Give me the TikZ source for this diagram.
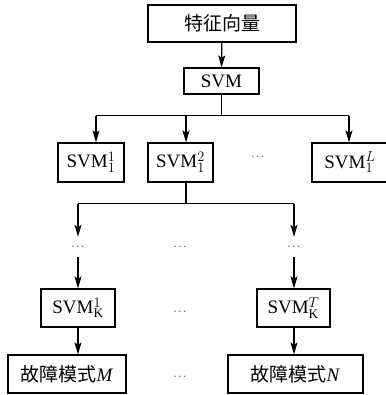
\documentclass[tikz,border=0pt]{standalone}
\usepackage{fontspec}
\setmainfont{Liberation Serif}
\newfontfamily\cjk{Noto Sans CJK SC}
\usetikzlibrary{arrows.meta}

\begin{document}
\begin{tikzpicture}[x=1pt,y=-1pt,
  every node/.style={font=\fontsize{19}{22}\selectfont},
  box/.style={draw,line width=1.2pt,inner sep=0pt,minimum height=38pt},
  dotnode/.style={inner sep=0pt,minimum height=20pt,font=\fontsize{11}{12}\selectfont},
  link/.style={line width=1.2pt,-{Stealth[length=12pt,width=7pt,inset=2.5pt]}}]
  \useasboundingbox (0,0) rectangle (385,395);
  \node[box,minimum width=148pt,minimum height=37pt] (feat) at (222,23.5) {\cjk 特征向量};
  \node[box,minimum width=75pt,minimum height=26pt] (svm) at (221.5,81) {SVM};
  \node[box,minimum width=66pt,minimum height=39pt] (svmA) at (91,162.5) {SVM$_{1}^{1}$};
  \node[box,minimum width=65pt,minimum height=39pt] (svmB) at (180.5,162.5) {SVM$_{1}^{2}$};
  \node[dotnode] (dotsA) at (258,157) {$\cdots$};
  \node[box,minimum width=76pt,minimum height=39pt] (svmL) at (350,162.5) {SVM$_{1}^{L}$};
  \node[dotnode] (dotsB) at (78,247) {$\cdots$};
  \node[dotnode] (dotsC) at (180,247) {$\cdots$};
  \node[dotnode] (dotsD) at (294,247) {$\cdots$};
  \node[box,minimum width=74pt] (svmKA) at (78,308) {SVM$_{\mathrm{K}}^{1}$};
  \node[dotnode] (dotsE) at (180,312) {$\cdots$};
  \node[box,minimum width=73pt] (svmKT) at (293.5,308) {SVM$_{\mathrm{K}}^{T}$};
  \node[box,minimum width=118pt] (faultM) at (67,374) {{\cjk 故障模式}\textit{M}};
  \node[dotnode] (dotsF) at (180,377) {$\cdots$};
  \node[box,minimum width=135pt] (faultN) at (295.5,374) {{\cjk 故障模式}\textit{N}};
  % first level
  \draw[link] (feat) -- (svm);
  \draw[line width=1.2pt] (svm.south) -- ++(0,21) coordinate (forkA);
  \draw[line width=1.2pt] ([xshift=5pt]svmA.north |- forkA) -- ([xshift=-1pt]svmL.north |- forkA);
  \draw[link] ([xshift=5pt]svmA.north |- forkA) -- ([xshift=5pt]svmA.north);
  \draw[link] ([xshift=5.5pt]svmB.north |- forkA) -- ([xshift=5.5pt]svmB.north);
  \draw[link] ([xshift=-1pt]svmL.north |- forkA) -- ([xshift=-1pt]svmL.north);
  % second level
  \draw[line width=1.2pt] ([xshift=5.5pt]svmB.south) -- ++(0,21) coordinate (forkB);
  \draw[line width=1.2pt] (dotsB.north |- forkB) -- (dotsD.north |- forkB);
  \draw[link] (dotsB.north |- forkB) -- (dotsB.north);
  \draw[link] (dotsD.north |- forkB) -- (dotsD.north);
  \draw[link] (dotsB.south) -- (svmKA);
  \draw[link] (dotsD.south) -- (dotsD.south |- svmKT.north);
  \draw[link] (svmKA) -- (svmKA |- faultM.north);
  \draw[link] (svmKT.south -| dotsD) -- (dotsD |- faultN.north);
\end{tikzpicture}
\end{document}
